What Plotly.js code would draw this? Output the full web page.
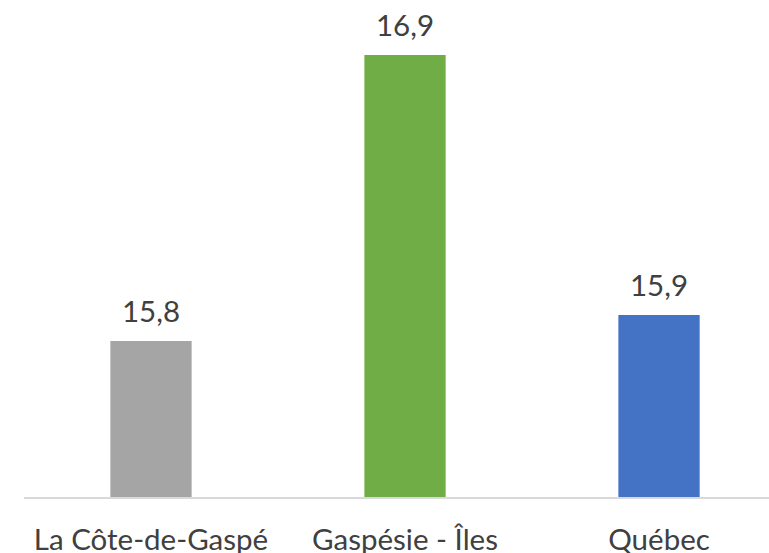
<!DOCTYPE html>
<html><head><meta charset="utf-8">
<script src="https://cdn.plot.ly/plotly-3.0.1.min.js"></script>
<style>html,body{margin:0;padding:0;background:#fff;}</style>
</head><body><div id="chart" style="width:769px;height:553px;"></div>
<script>
const categories = ["La Côte-de-Gaspé", "Gaspésie - Îles", "Québec"];
const values = [15.8, 16.9, 15.9];
const valueLabels = ["15,8", "16,9", "15,9"];
const barColors = ["#A5A5A5", "#70AD47", "#4472C4"];

const fontFam = "Lato, 'Open Sans', sans-serif";
const trace = {
  type: "bar",
  x: categories,
  y: values,
  marker: {color: barColors},
  width: 0.32,
  hoverinfo: "skip"
};
const annotations = categories.map((c, i) => ({
  x: c, y: values[i], text: valueLabels[i], showarrow: false,
  xref: "x", yref: "y", yanchor: "bottom", yshift: 11,
  font: {family: fontFam, size: 29.5, color: "#404040"}
}));
const layout = {
  width: 769, height: 553,
  margin: {l: 24, r: 0, t: 29, b: 56},
  paper_bgcolor: "#fff", plot_bgcolor: "#fff",
  showlegend: false,
  xaxis: {
    type: "category",
    range: [-0.5, 2.433],
    showline: true, linecolor: "#D9D9D9", linewidth: 1.5,
    showgrid: false, zeroline: false, ticks: "",
    tickfont: {family: fontFam, size: 29.5, color: "#404040"},
    ticklabelstandoff: 16
  },
  yaxis: {
    range: [15.2, 17.0],
    visible: false, showgrid: false, zeroline: false
  },
  annotations: annotations
};
Plotly.newPlot("chart", [trace], layout, {displayModeBar: false, staticPlot: true});
</script></body></html>
